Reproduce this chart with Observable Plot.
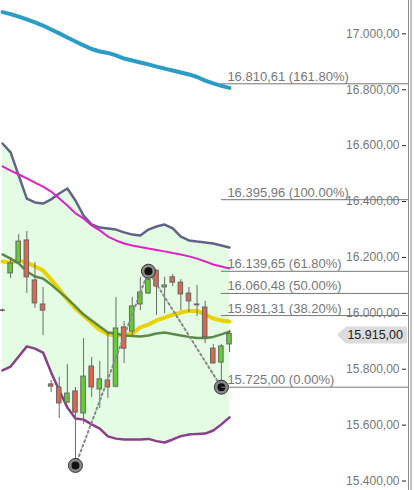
<!DOCTYPE html>
<html>
<head>
<meta charset="utf-8">
<script src="https://cdn.jsdelivr.net/npm/d3@7"></script>
<script src="https://cdn.jsdelivr.net/npm/@observablehq/plot@0.6"></script>
<style>
  html, body { margin: 0; padding: 0; background: #fff; }
  svg { display: block; }
</style>
</head>
<body>
<div id="chart"></div>
<script>
// Candles (index 0..28)
const opens  = [16000, 16132, 16171, 16250, 16107, 16021, 15735, 15724, 15670, 15710, 15631, 15799, 15717, 15749, 15727, 15939, 15924, 16021, 16060, 16142, 16082, 16118, 16099, 16060, 16021, 16010, 15863, 15813, 15878];
const highs  = [16004, 16189, 16271, 16282, 16171, 16082, 15749, 15760, 15806, 15724, 15899, 15831, 15817, 15921, 16046, 15960, 16046, 16118, 16140, 16144, 16118, 16128, 16110, 16082, 16089, 16032, 15878, 15878, 15928];
const lows   = [15994, 16114, 16168, 16060, 16007, 15910, 15706, 15613, 15668, 15445, 15592, 15688, 15649, 15685, 15722, 15810, 15910, 15999, 16058, 15982, 15988, 16085, 15999, 15992, 15978, 15881, 15808, 15725, 15849];
const closes = [15998, 16168, 16246, 16118, 16025, 15999, 15727, 15667, 15702, 15634, 15763, 15724, 15753, 15724, 15935, 15863, 16014, 16064, 16110, 16085, 16089, 16099, 16057, 16032, 16018, 15903, 15810, 15871, 15915];

// Indicator lines
const maLong   = [17067, 17060, 17051, 17041, 17030, 17019, 17005, 16991, 16976, 16962, 16948, 16935, 16926, 16921, 16912, 16901, 16894, 16887, 16880, 16872, 16865, 16858, 16851, 16844, 16835, 16822, 16812, 16803, 16796];
const bbUpper  = [16597, 16565, 16482, 16400, 16386, 16382, 16397, 16418, 16436, 16393, 16339, 16307, 16296, 16293, 16289, 16279, 16271, 16268, 16289, 16300, 16307, 16293, 16264, 16250, 16246, 16243, 16239, 16232, 16225];
const maMid    = [16515, 16500, 16486, 16472, 16457, 16443, 16425, 16400, 16375, 16347, 16329, 16304, 16286, 16264, 16250, 16239, 16232, 16227, 16221, 16216, 16211, 16205, 16200, 16193, 16185, 16175, 16164, 16157, 16150];
const maShort  = [16175, 16171, 16178, 16171, 16157, 16143, 16110, 16075, 16039, 16007, 15982, 15956, 15931, 15914, 15910, 15912, 15917, 15939, 15949, 15964, 15974, 15985, 15992, 15998, 15998, 15985, 15971, 15964, 15960];
const bbMiddle = [16200, 16185, 16168, 16139, 16121, 16114, 16092, 16067, 16042, 16014, 15985, 15964, 15942, 15921, 15917, 15910, 15908, 15906, 15910, 15917, 15921, 15915, 15910, 15905, 15901, 15901, 15905, 15914, 15924];
const bbLower  = [15785, 15799, 15835, 15871, 15863, 15849, 15778, 15713, 15652, 15613, 15609, 15592, 15577, 15549, 15541, 15538, 15538, 15538, 15540, 15532, 15527, 15538, 15550, 15556, 15558, 15559, 15570, 15592, 15617];

// Zigzag pivots
const pivotIdx = [9, 18, 27];
const pivotVal = [15445, 16140, 15725];

// Fibonacci levels
const fibValues = [16810.61, 16395.96, 16139.65, 16060.48, 15981.31, 15725.00];
const fibPcts   = [161.8, 100, 61.8, 50, 38.2, 0];
const fibAnchorIdx = 27;

// Axis ticks
const yTicks = [17000, 16800, 16600, 16400, 16200, 16000, 15800, 15600, 15400];

const xDomain = [-0.2467, 50.08];
const yDomain = [15355.4, 17108.6];

const locale = d3.formatLocale({decimal: ",", thousands: ".", grouping: [3], currency: ["", ""]});
const fmt = locale.format(",.2f");

const idx = d3.range(opens.length);
const candles = idx.map(i => ({i, o: opens[i], h: highs[i], l: lows[i], c: closes[i]}));
const lineRows = idx.map(i => ({i, maLong: maLong[i], up: bbUpper[i], mid: maMid[i], short: maShort[i], bm: bbMiddle[i], lo: bbLower[i]}));
const pivots = pivotIdx.map((x, k) => ({i: x, v: pivotVal[k]}));
const fibs = fibValues.map((v, k) => ({v, x1: fibAnchorIdx, x2: xDomain[1], label: `${fmt(v)} (${fibPcts[k].toFixed(2)}%)`}));
const lastClose = closes[closes.length - 1];

const FONT = "'Liberation Sans', Arial, sans-serif";

const priceTag = (index, scales, values, dims) => {
  const y = scales.y(lastClose) + 1.5;
  const right = dims.width - dims.marginRight;
  const x0 = right - 71, x1 = right - 1;
  const g = d3.create("svg:g");
  g.append("path")
    .attr("d", `M${x0},${y} L${x0 + 9},${y - 8.5} L${x1},${y - 8.5} L${x1},${y + 8.5} L${x0 + 9},${y + 8.5} Z`)
    .attr("fill", "#dcdcdc");
  g.append("text")
    .attr("x", x1 - 4).attr("y", y).attr("dy", "0.35em")
    .attr("text-anchor", "end")
    .attr("font-family", FONT).attr("font-size", 12.5)
    .attr("fill", "#222")
    .text(fmt(lastClose));
  return g.node();
};

const chart = Plot.plot({
  width: 414,
  height: 490,
  marginLeft: 0,
  marginRight: 6,
  marginTop: 0,
  marginBottom: 0,
  style: {fontFamily: FONT, background: "#fff"},
  x: {domain: xDomain, axis: null},
  y: {domain: yDomain, axis: null},
  marks: [
    Plot.areaY(lineRows, {x: "i", y1: "lo", y2: "up", fill: "#e4fce4"}),
    Plot.line(lineRows, {x: "i", y: "maLong", stroke: "#2b9cc8", strokeWidth: 4}),
    Plot.line(lineRows, {x: "i", y: "up", stroke: "#62628a", strokeWidth: 2.5}),
    Plot.line(lineRows, {x: "i", y: "mid", stroke: "#e020c8", strokeWidth: 2}),
    Plot.line(lineRows, {x: "i", y: "lo", stroke: "#8b3f8b", strokeWidth: 2.5}),
    Plot.line(lineRows, {x: "i", y: "short", stroke: "#e8d200", strokeWidth: 4}),
    Plot.line(lineRows, {x: "i", y: "bm", stroke: "#5b8c45", strokeWidth: 2.5}),
    Plot.ruleX(candles, {x: "i", y1: "l", y2: "h", stroke: "#6a6a6a", strokeWidth: 1}),
    Plot.rect(candles, {
      x1: d => d.i - 0.28, x2: d => d.i + 0.28,
      y1: d => Math.min(d.o, d.c), y2: d => Math.max(d.o, d.c),
      fill: d => d.c >= d.o ? "#66cc33" : "#e0654a",
      stroke: "#666", strokeWidth: 1
    }),
    Plot.line(pivots, {x: "i", y: "v", stroke: "#888", strokeWidth: 2, strokeDasharray: "2,3"}),
    Plot.dot(pivots, {x: "i", y: "v", r: 7, fill: "#8a8a8a", stroke: "#333", strokeWidth: 1}),
    Plot.dot(pivots, {x: "i", y: "v", r: 4, fill: "#111"}),
    Plot.ruleY(fibs, {y: "v", x1: "x1", x2: "x2", stroke: "#777", strokeWidth: 1}),
    Plot.text(fibs, {x: "x1", y: "v", text: "label", textAnchor: "start", lineAnchor: "bottom", dx: 6, dy: -3, fill: "#777", fontSize: 13}),
    Plot.axisY({anchor: "left", ticks: yTicks, tickFormat: fmt, tickSize: 4, tickPadding: 3, dx: 406, dy: 3, fontSize: 12, fill: "#777", stroke: "#222", label: null}),
    Plot.frame({anchor: "right", stroke: "#8a8a8a", dx: 0}),
    Plot.frame({anchor: "right", stroke: "#8a8a8a", dx: 2.5}),
    priceTag
  ]
});

document.getElementById("chart").appendChild(chart);
</script>
</body>
</html>
